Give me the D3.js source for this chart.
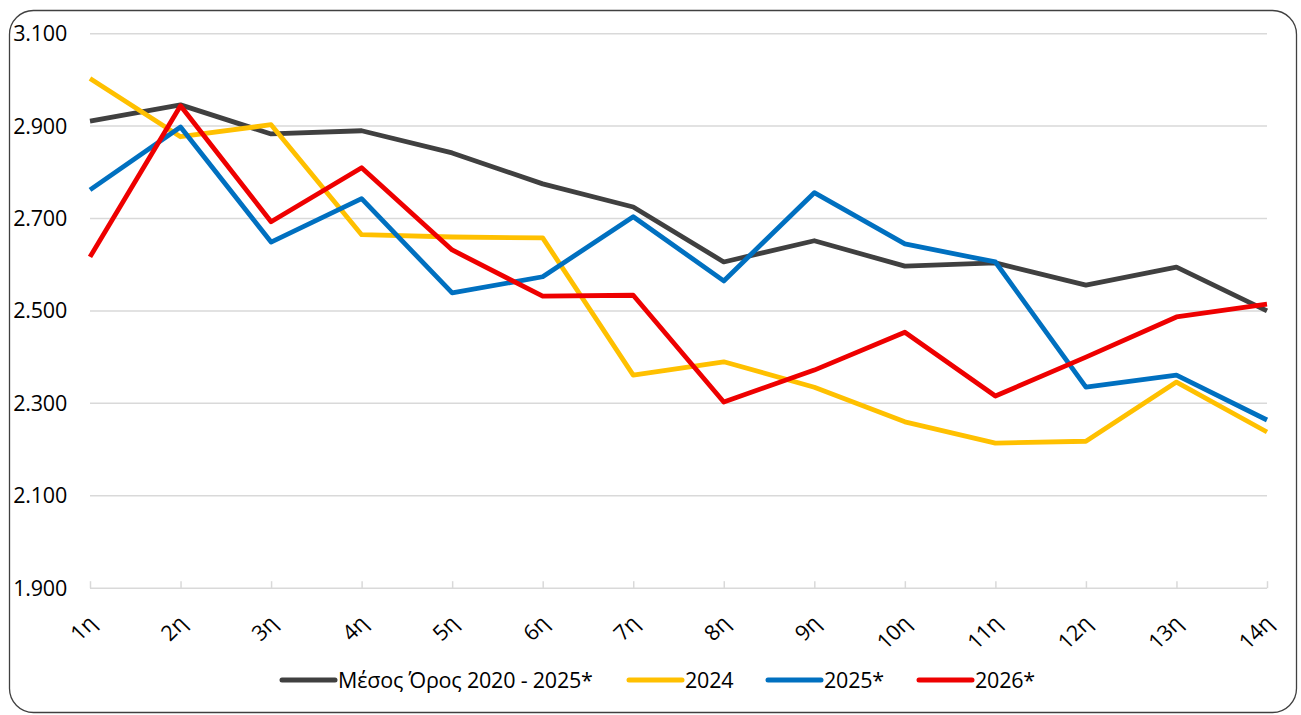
<!DOCTYPE html>
<html><head><meta charset="utf-8">
<script src="https://cdn.jsdelivr.net/npm/d3@7/dist/d3.min.js"></script>
<style>
html,body{margin:0;padding:0;background:#fff;}
svg text{font-family:"Open Sans","Noto Sans",sans-serif;fill:#000;}
</style></head>
<body><svg id="c" width="1301" height="715"></svg>
<script>
const categories = ["1η","2η","3η","4η","5η","6η","7η","8η","9η","10η","11η","12η","13η","14η"];
const avg2020_2025 = [2911,2946,2883,2890,2842,2775,2725,2606,2652,2597,2604,2556,2595,2500];
const y2024 = [3003,2877,2903,2665,2660,2658,2361,2390,2335,2260,2214,2218,2346,2238];
const y2025 = [2762,2898,2649,2743,2539,2574,2704,2565,2756,2645,2606,2335,2361,2264];
const y2026 = [2617,2944,2693,2810,2632,2532,2534,2303,2372,2454,2316,2400,2487,2515];
const yTicks = [1900,2100,2300,2500,2700,2900,3100];
const seriesNames = ["Μέσος Όρος 2020 - 2025*","2024","2025*","2026*"];
const seriesColors = ["#404040","#FFC000","#0070C0","#EE0000"];

const series = [avg2020_2025,y2024,y2025,y2026].map((v,i)=>({name:seriesNames[i],color:seriesColors[i],values:v}));

const svg = d3.select("#c");
svg.append("rect").attr("x",9.5).attr("y",10.5).attr("width",1287).attr("height",702)
  .attr("rx",24).attr("ry",24).attr("fill","#fff").attr("stroke","#404040").attr("stroke-width",1.3);

const x = d3.scalePoint().domain(categories).range([90,1267]);
const y = d3.scaleLinear().domain([1900,3100]).range([588.2,33.7]);
const fmt = v => d3.format(",")(v).replace(",",".") ;

// gridlines
svg.append("g").selectAll("line").data(yTicks.filter(t=>t>1900)).join("line")
  .attr("x1",90).attr("x2",1267).attr("y1",d=>y(d)).attr("y2",d=>y(d))
  .attr("stroke","#d9d9d9").attr("stroke-width",1.5);

// y labels
svg.append("g").selectAll("text").data(yTicks).join("text")
  .attr("x",67).attr("y",d=>y(d)).attr("dy","0.35em").attr("text-anchor","end")
  .style("font-size","21.5px").style("letter-spacing","-0.2px").text(d=>fmt(d));

// x axis
const xAxis = svg.append("g").attr("transform",`translate(0,${y(1900)})`)
  .call(d3.axisTop(x).tickSize(7).tickFormat(""));
xAxis.select(".domain").attr("stroke","#d9d9d9").attr("stroke-width",1.5).attr("d",`M90,0H1267`);
xAxis.selectAll(".tick line").attr("stroke","#d9d9d9").attr("stroke-width",1.5);

svg.append("g").selectAll("text").data(categories).join("text")
  .attr("transform",d=>`translate(${x(d)+2},${y(1900)+31}) rotate(-45)`)
  .attr("text-anchor","end").attr("dy","0.35em")
  .style("font-size","21.5px").style("letter-spacing","-0.2px").text(d=>d);

// lines
const line = d3.line().x((d,i)=>x(categories[i])).y(d=>y(d));
svg.append("g").selectAll("path").data(series).join("path")
  .attr("d",d=>line(d.values)).attr("fill","none").attr("stroke",d=>d.color)
  .attr("stroke-width",4.8).attr("stroke-linejoin","round").attr("stroke-linecap","butt");

// legend
const legX = [282,629,768,919];
const lg = svg.append("g").selectAll("g").data(series).join("g")
  .attr("transform",(d,i)=>`translate(${legX[i]},680)`);
lg.append("line").attr("x1",0).attr("x2",53).attr("y1",0).attr("y2",0)
  .attr("stroke",d=>d.color).attr("stroke-width",5).attr("stroke-linecap","round");
lg.append("text").attr("x",56).attr("y",0).attr("dy","0.35em")
  .style("font-size","21.5px").style("letter-spacing","-0.2px").text(d=>d.name);
</script></body></html>
